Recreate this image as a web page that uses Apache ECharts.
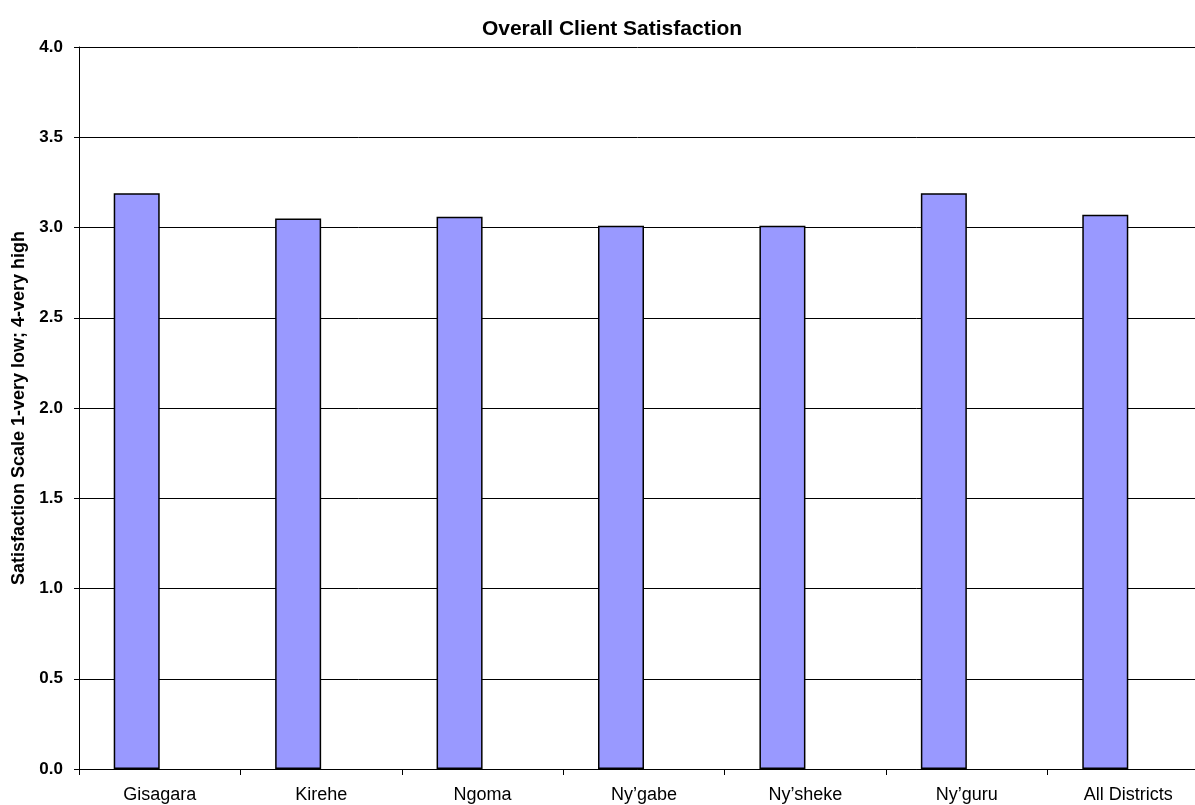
<!DOCTYPE html>
<html>
<head>
<meta charset="utf-8">
<script src="https://cdn.jsdelivr.net/npm/echarts@6/dist/echarts.min.js"></script>
<style>
  html, body { margin: 0; padding: 0; background: #fff; }
  #chart { width: 1195px; height: 805px; }
</style>
</head>
<body>
<div id="chart"></div>
<script>
// District names along the category axis
const districts = ['Gisagara', 'Kirehe', 'Ngoma', 'Ny\u2019gabe', 'Ny\u2019sheke', 'Ny\u2019guru', 'All Districts'];
// Mean satisfaction score per district (scale 1-4)
const satisfaction = [3.19, 3.05, 3.06, 3.01, 3.01, 3.19, 3.07];
// Second slot in each category is left empty
const emptySlot = districts.map(() => null);

const chart = echarts.init(document.getElementById('chart'), null, { renderer: 'canvas' });

const fontFamily = '"Liberation Sans", Arial, sans-serif';

chart.setOption({
  animation: false,
  backgroundColor: '#ffffff',
  title: {
    text: 'Overall Client Satisfaction',
    left: 607,
    textAlign: 'center',
    top: 14,
    textStyle: { fontFamily, fontSize: 21, fontWeight: 'bold', color: '#000' }
  },
  grid: {
    left: 79, top: 47, bottom: 36, width: 1130,
    containLabel: false,
    outerBoundsMode: 'none'
  },
  xAxis: {
    type: 'category',
    data: districts,
    boundaryGap: true,
    axisLine: { show: true, lineStyle: { color: '#000', width: 1 } },
    axisTick: { show: true, length: 6, alignWithLabel: false, lineStyle: { color: '#000' } },
    axisLabel: { fontFamily, fontSize: 18, color: '#000', margin: 17, interval: 0 },
    splitLine: { show: false }
  },
  yAxis: {
    type: 'value',
    min: 0,
    max: 4,
    interval: 0.5,
    name: 'Satisfaction Scale 1-very low; 4-very high',
    nameLocation: 'middle',
    nameGap: 46,
    nameTextStyle: { fontFamily, fontSize: 18, fontWeight: 'bold', color: '#000' },
    axisLine: { show: true, lineStyle: { color: '#000', width: 1 } },
    axisTick: { show: true, length: 5, lineStyle: { color: '#000' } },
    axisLabel: {
      fontFamily, fontSize: 17, fontWeight: 'bold', color: '#000', margin: 16,
      formatter: v => v.toFixed(1)
    },
    splitLine: { show: true, lineStyle: { color: '#000', width: 1 } }
  },
  series: [
    {
      type: 'bar',
      data: satisfaction,
      barWidth: 46,
      barGap: '0%',
      itemStyle: { color: '#9999FF', borderColor: '#000', borderWidth: 1.5 }
    },
    {
      type: 'bar',
      data: emptySlot,
      barWidth: 46,
      barGap: '0%',
      itemStyle: { color: '#993366' }
    }
  ]
});
</script>
</body>
</html>
